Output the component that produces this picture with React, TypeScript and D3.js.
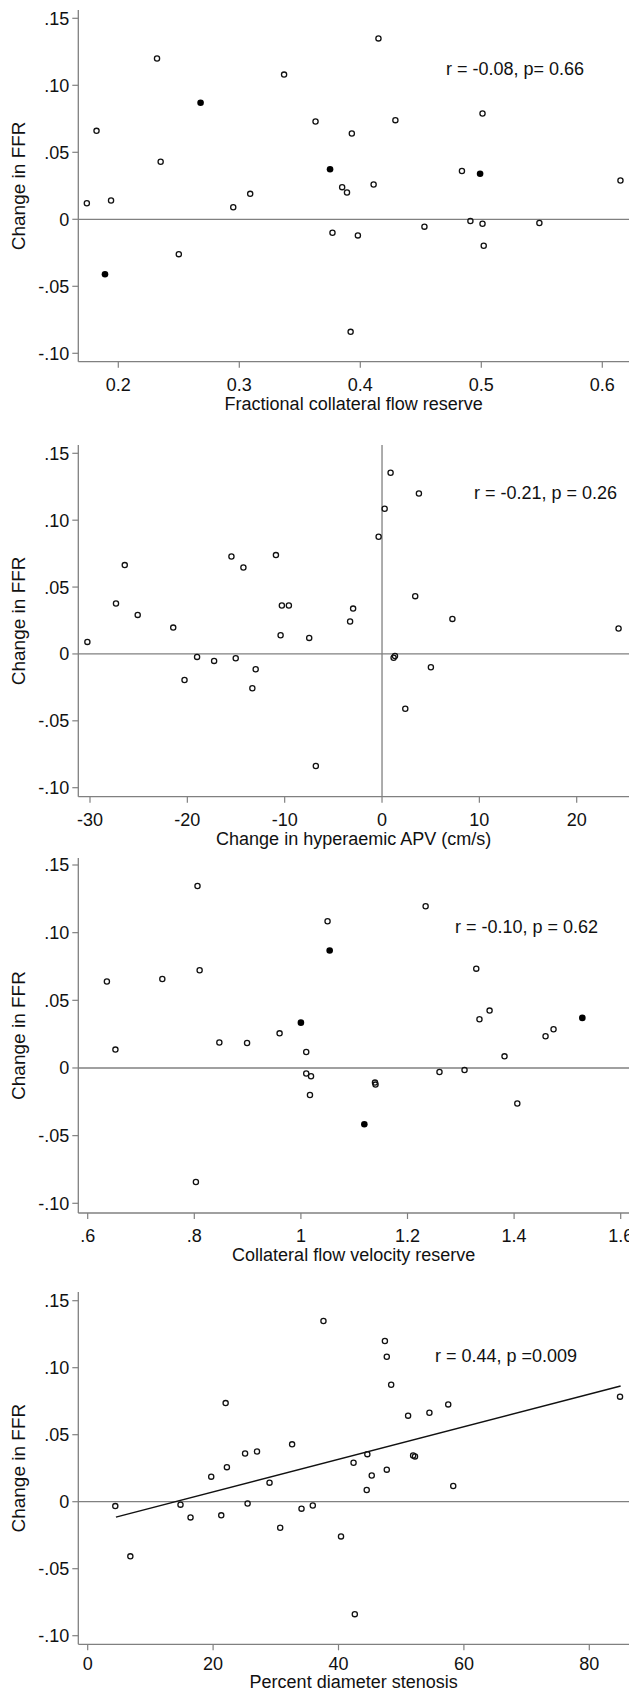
import React from "react";
import * as d3 from "d3";

// ---------- DATA ----------
// Panel 1: Fractional collateral flow reserve
const p1OpenX = [0.174, 0.182, 0.194, 0.232, 0.235, 0.25, 0.295, 0.309, 0.337, 0.363, 0.415, 0.393, 0.429, 0.385, 0.389, 0.411, 0.377, 0.398, 0.392, 0.453, 0.484, 0.501, 0.491, 0.501, 0.502, 0.548, 0.615];
const p1OpenY = [0.012, 0.066, 0.014, 0.12, 0.043, -0.026, 0.009, 0.019, 0.108, 0.073, 0.135, 0.064, 0.074, 0.024, 0.02, 0.026, -0.01, -0.012, -0.084, -0.0055, 0.036, 0.079, -0.0013, -0.0033, -0.0197, -0.0028, 0.029];
const p1FilledX = [0.189, 0.268, 0.375, 0.499];
const p1FilledY = [-0.041, 0.087, 0.0374, 0.034];
const p1Ticks = [0.2, 0.3, 0.4, 0.5, 0.6];
const p1TickLabels = ["0.2", "0.3", "0.4", "0.5", "0.6"];

// Panel 2: Change in hyperaemic APV (cm/s)
const p2X = [-30.27, -27.33, -26.43, -25.1, -21.45, -20.29, -19.0, -17.25, -15.47, -15.03, -14.24, -13.32, -12.98, -10.9, -10.42, -10.29, -9.57, -7.48, -6.8, -3.28, -2.97, -0.35, 0.27, 0.88, 3.79, 3.41, 7.23, 24.3, 1.19, 1.33, 5.02, 2.39];
const p2Y = [0.009, 0.0377, 0.0664, 0.0292, 0.0197, -0.0195, -0.0022, -0.0052, 0.0728, -0.0032, 0.0646, -0.0257, -0.0115, 0.0739, 0.014, 0.0362, 0.0362, 0.012, -0.0838, 0.0242, 0.0339, 0.0876, 0.1085, 0.1355, 0.12, 0.0432, 0.0262, 0.019, -0.0028, -0.0015, -0.01, -0.041];
const p2Ticks = [-30, -20, -10, 0, 10, 20];
const p2TickLabels = ["-30", "-20", "-10", "0", "10", "20"];

// Panel 3: Collateral flow velocity reserve
const p3OpenX = [0.636, 0.652, 0.74, 0.806, 0.81, 0.803, 0.847, 0.899, 0.96, 1.01, 1.01, 1.019, 1.017, 1.05, 1.234, 1.329, 1.335, 1.354, 1.459, 1.474, 1.382, 1.26, 1.307, 1.139, 1.14, 1.406];
const p3OpenY = [0.0639, 0.0136, 0.0658, 0.1345, 0.0722, -0.0843, 0.0188, 0.0185, 0.0256, 0.0118, -0.0041, -0.0061, -0.02, 0.1084, 0.1195, 0.0734, 0.036, 0.0424, 0.0234, 0.0286, 0.0086, -0.003, -0.0015, -0.0108, -0.0123, -0.0263];
const p3FilledX = [1.0, 1.054, 1.528, 1.119];
const p3FilledY = [0.0335, 0.0868, 0.037, -0.0416];
const p3Ticks = [0.6, 0.8, 1.0, 1.2, 1.4, 1.6];
const p3TickLabels = [".6", ".8", "1", "1.2", "1.4", "1.6"];

// Panel 4: Percent diameter stenosis
const p4X = [4.4, 6.8, 14.8, 16.4, 19.7, 21.3, 22.0, 22.2, 25.1, 25.5, 27.0, 29.0, 30.7, 32.6, 34.1, 35.9, 37.6, 40.4, 42.6, 42.4, 44.6, 44.5, 45.3, 47.4, 47.7, 48.4, 47.7, 51.1, 51.9, 52.2, 54.5, 57.5, 58.3, 84.9];
const p4Y = [-0.0033, -0.0408, -0.0022, -0.0117, 0.0187, -0.0102, 0.0736, 0.0258, 0.036, -0.0013, 0.0375, 0.0142, -0.0194, 0.0428, -0.0052, -0.0028, 0.1348, -0.0259, -0.0839, 0.0291, 0.0355, 0.0087, 0.0196, 0.1199, 0.1082, 0.0873, 0.0239, 0.0642, 0.0345, 0.0338, 0.0664, 0.0726, 0.0117, 0.0784];
const p4FitX = [4.5, 85];
const p4FitY = [-0.0115, 0.0863];
const p4Ticks = [0, 20, 40, 60, 80];
const p4TickLabels = ["0", "20", "40", "60", "80"];

// Shared y axis
const yTicks = [0.15, 0.1, 0.05, 0, -0.05, -0.1];
const yTickLabels = [".15", ".10", ".05", "0", "-.05", "-.10"];
const yTitle = "Change in FFR";

// ---------- LAYOUT ----------
const W = 629;
const H = 1691;
const FONT = "'Liberation Sans', Arial, Helvetica, sans-serif";
const AXIS = "#808080";
const FS = 18;

type PanelDef = {
  xTitle: string;
  annot: string;
  annotX: number;
  annotY: number;
  xTicks: number[];
  xTickLabels: string[];
  xDom: [number, number];
  xRange: [number, number];
  yTopTick: number;
  yBotTick: number;
  axisTop: number;
  axisBottom: number;
  tickOff: number;
  titleOff: number;
  open: [number[], number[]];
  filled?: [number[], number[]];
  vZero?: boolean;
  fit?: [number[], number[]];
};

const panels: PanelDef[] = [
  {
    xTitle: "Fractional collateral flow reserve",
    annot: "r = -0.08, p= 0.66",
    annotX: 446, annotY: 69,
    xTicks: p1Ticks, xTickLabels: p1TickLabels,
    xDom: [0.2, 0.6], xRange: [118.3, 602.3],
    yTopTick: 18.3, yBotTick: 353.3, axisTop: 10, axisBottom: 361.7,
    tickOff: 23, titleOff: 42,
    open: [p1OpenX, p1OpenY], filled: [p1FilledX, p1FilledY],
  },
  {
    xTitle: "Change in hyperaemic APV (cm/s)",
    annot: "r = -0.21, p = 0.26",
    annotX: 474, annotY: 493,
    xTicks: p2Ticks, xTickLabels: p2TickLabels,
    xDom: [-30, 20], xRange: [90, 576.7],
    yTopTick: 453.3, yBotTick: 787.7, axisTop: 445, axisBottom: 796.7,
    tickOff: 23, titleOff: 42,
    open: [p2X, p2Y], vZero: true,
  },
  {
    xTitle: "Collateral flow velocity reserve",
    annot: "r = -0.10, p = 0.62",
    annotX: 455, annotY: 927,
    xTicks: p3Ticks, xTickLabels: p3TickLabels,
    xDom: [0.6, 1.6], xRange: [87.7, 620.7],
    yTopTick: 865, yBotTick: 1203.3, axisTop: 858, axisBottom: 1213,
    tickOff: 23, titleOff: 42,
    open: [p3OpenX, p3OpenY], filled: [p3FilledX, p3FilledY],
  },
  {
    xTitle: "Percent diameter stenosis",
    annot: "r = 0.44, p =0.009",
    annotX: 435, annotY: 1356,
    xTicks: p4Ticks, xTickLabels: p4TickLabels,
    xDom: [0, 80], xRange: [87.7, 589.3],
    yTopTick: 1300.7, yBotTick: 1635.7, axisTop: 1292, axisBottom: 1644.3,
    tickOff: 19, titleOff: 37.5,
    open: [p4X, p4Y], fit: [p4FitX, p4FitY],
  },
];

const AX_LEFT = 78.3;
const AX_RIGHT = W;

function Panel({ p }: { p: PanelDef }) {
  const x = d3.scaleLinear().domain(p.xDom).range(p.xRange);
  const y = d3.scaleLinear().domain([-0.1, 0.15]).range([p.yBotTick, p.yTopTick]);
  const line = d3
    .line<[number, number]>()
    .x((d) => x(d[0]))
    .y((d) => y(d[1]));
  const yMid = (p.axisTop + p.axisBottom) / 2;
  const xMid = (AX_LEFT + AX_RIGHT) / 2;
  return (
    <g>
      {/* zero reference line */}
      <line x1={AX_LEFT} x2={AX_RIGHT} y1={y(0)} y2={y(0)} stroke={AXIS} strokeWidth={1.3} />
      {p.vZero && (
        <line x1={x(0)} x2={x(0)} y1={p.axisTop} y2={p.axisBottom} stroke={AXIS} strokeWidth={1.3} />
      )}
      {/* y axis */}
      <line x1={AX_LEFT} x2={AX_LEFT} y1={p.axisTop} y2={p.axisBottom} stroke={AXIS} strokeWidth={1.3} />
      {yTicks.map((t, i) => (
        <g key={"yt" + i}>
          <line x1={AX_LEFT - 6} x2={AX_LEFT} y1={y(t)} y2={y(t)} stroke={AXIS} strokeWidth={1.2} />
          <text x={AX_LEFT - 9} y={y(t)} dy="0.36em" textAnchor="end" fontSize={FS} fontFamily={FONT} fill="#111">
            {yTickLabels[i]}
          </text>
        </g>
      ))}
      <text
        transform={`translate(25,${yMid}) rotate(-90)`}
        textAnchor="middle"
        fontSize={FS + 1}
        fontFamily={FONT}
        fill="#111"
      >
        {yTitle}
      </text>
      {/* x axis */}
      <line x1={AX_LEFT} x2={AX_RIGHT} y1={p.axisBottom} y2={p.axisBottom} stroke={AXIS} strokeWidth={1.3} />
      {p.xTicks.map((t, i) => (
        <g key={"xt" + i}>
          <line x1={x(t)} x2={x(t)} y1={p.axisBottom} y2={p.axisBottom + 6} stroke={AXIS} strokeWidth={1.2} />
          <text x={x(t)} y={p.axisBottom + p.tickOff} dy="0.36em" textAnchor="middle" fontSize={FS} fontFamily={FONT} fill="#111">
            {p.xTickLabels[i]}
          </text>
        </g>
      ))}
      <text x={xMid} y={p.axisBottom + p.titleOff} dy="0.36em" textAnchor="middle" fontSize={FS} fontFamily={FONT} fill="#111">
        {p.xTitle}
      </text>
      {/* fit line */}
      {p.fit && (
        <path
          d={line(p.fit[0].map((v, i) => [v, p.fit![1][i]] as [number, number])) || ""}
          fill="none"
          stroke="#111"
          strokeWidth={1.5}
        />
      )}
      {/* points */}
      {p.open[0].map((v, i) => (
        <circle key={"o" + i} cx={x(v)} cy={y(p.open[1][i])} r={2.6} fill="none" stroke="#111" strokeWidth={1.3} />
      ))}
      {p.filled &&
        p.filled[0].map((v, i) => (
          <circle key={"f" + i} cx={x(v)} cy={y(p.filled![1][i])} r={3.3} fill="#000" stroke="none" />
        ))}
      {/* annotation */}
      <text x={p.annotX} y={p.annotY} dy="0.36em" fontSize={FS} fontFamily={FONT} fill="#111">
        {p.annot}
      </text>
    </g>
  );
}

export default function App() {
  return (
    <svg
      width={W}
      height={H}
      viewBox={`0 0 ${W} ${H}`}
      style={{ position: "absolute", left: 0, top: 0, background: "#fff" }}
    >
      <rect x={0} y={0} width={W} height={H} fill="#fff" />
      {panels.map((p, i) => (
        <Panel key={i} p={p} />
      ))}
    </svg>
  );
}
